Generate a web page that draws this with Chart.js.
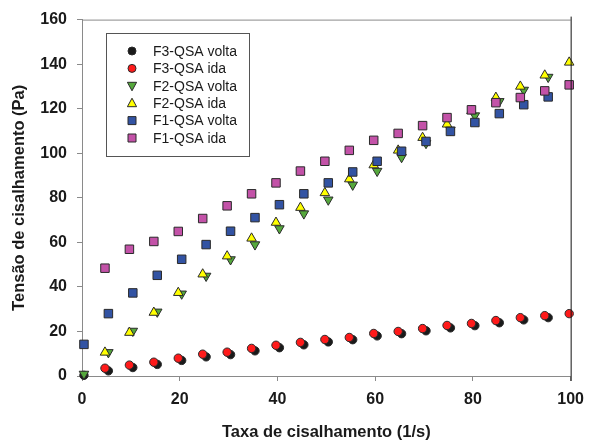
<!DOCTYPE html>
<html>
<head>
<meta charset="utf-8">
<script src="https://cdn.jsdelivr.net/npm/chart.js@4.4.0/dist/chart.umd.min.js"></script>
<style>
  html, body { margin: 0; padding: 0; background: #fff; }
</style>
</head>
<body>
<canvas id="chart" width="593" height="445"></canvas>
<script>
/* --------------------------
   DADOS
--------------------------- */
// taxa de cisalhamento (1/s)
const shearIda   = [4.7, 9.7, 14.7, 19.7, 24.7, 29.7, 34.7, 39.7, 44.7, 49.7,
                    54.7, 59.7, 64.7, 69.7, 74.7, 79.7, 84.7, 89.7, 94.7, 99.7];
const shearVolta = [0.4, 5.4, 10.4, 15.4, 20.4, 25.4, 30.4, 35.4, 40.4, 45.4,
                    50.4, 55.4, 60.4, 65.4, 70.4, 75.4, 80.4, 85.4, 90.4, 95.4];

// tensão de cisalhamento (Pa)
const f3Volta = [0.3, 2.3, 3.8, 5.2, 7.0, 8.6, 9.6, 11.3, 12.7, 14.0,
                 15.3, 16.3, 18.0, 19.0, 20.3, 21.6, 22.6, 23.9, 25.2, 26.2];
const f3Ida   = [3.5, 4.9, 6.2, 8.0, 9.8, 10.7, 12.4, 13.8, 15.1, 16.4,
                 17.3, 19.1, 20.0, 21.3, 22.7, 23.6, 24.9, 26.2, 27.1, 28.0];
const f2Volta = [0.9, 10.6, 20.2, 28.8, 36.9, 44.9, 52.3, 59.0, 66.2, 72.9,
                 79.1, 85.8, 92.0, 98.2, 104.5, 110.5, 116.9, 123.3, 128.4, 134.2];
const f2Ida   = [10.6, 19.5, 28.5, 37.4, 45.7, 53.8, 61.8, 68.9, 75.6, 82.2,
                 88.4, 94.7, 101.3, 107.0, 113.0, 119.0, 125.0, 130.0, 135.0, 140.8];
const f1Volta = [14.2, 28.0, 37.3, 45.2, 52.4, 59.0, 65.0, 71.1, 76.9, 81.8,
                 86.7, 91.6, 96.4, 100.9, 105.3, 109.8, 113.8, 117.8, 121.8, 125.3];
const f1Ida   = [48.4, 56.9, 60.4, 64.9, 70.7, 76.4, 81.8, 86.7, 92.0, 96.4,
                 101.3, 105.8, 108.9, 112.4, 116.0, 119.5, 122.7, 125.0, 128.0, 130.7];

const xTicks = [0, 20, 40, 60, 80, 100];
const yTicks = [0, 20, 40, 60, 80, 100, 120, 140, 160];

const FONT = "'Liberation Sans', Arial, sans-serif";

function pts(xs, ys) {
    return ys.map((y, i) => ({ x: xs[i], y: y }));
}

function serie(label, xs, ys, style, rot, radius, fill, order) {
    return {
        label: label,
        data: pts(xs, ys),
        pointStyle: style,
        rotation: rot,
        pointRadius: radius,
        pointHoverRadius: radius,
        backgroundColor: fill,
        borderColor: '#2a2a2a',
        borderWidth: 1,
        clip: false,
        order: order
    };
}

/* --------------------------
   MOLDURA + LEGENDA
--------------------------- */
const framePlugin = {
    id: 'frame',
    afterDraw(chart) {
        const { ctx, chartArea: a } = chart;
        ctx.save();
        ctx.lineWidth = 1;
        ctx.strokeStyle = '#8a8a8a';
        ctx.beginPath();
        ctx.moveTo(a.left, a.top + 0.5);
        ctx.lineTo(a.right, a.top + 0.5);
        ctx.stroke();
        ctx.strokeStyle = '#111';
        ctx.beginPath();
        ctx.moveTo(a.right + 0.5, a.top - 3);
        ctx.lineTo(a.right + 0.5, a.bottom + 5);
        ctx.stroke();
        ctx.restore();
    }
};

function drawMarker(ctx, ds, x, y) {
    ctx.fillStyle = ds.backgroundColor;
    ctx.strokeStyle = ds.borderColor;
    ctx.lineWidth = 1;
    ctx.beginPath();
    if (ds.pointStyle === 'circle') {
        ctx.arc(x, y, 4, 0, Math.PI * 2);
    } else if (ds.pointStyle === 'rect') {
        ctx.rect(x - 4, y - 4, 8, 8);
    } else {
        const s = ds.rotation ? -1 : 1;
        ctx.moveTo(x, y - 5 * s);
        ctx.lineTo(x + 4.6, y + 3.5 * s);
        ctx.lineTo(x - 4.6, y + 3.5 * s);
        ctx.closePath();
    }
    ctx.fill();
    ctx.stroke();
}

const legendPlugin = {
    id: 'legendBox',
    afterDraw(chart) {
        const ctx = chart.ctx;
        const bx = 106, by = 33, bw = 143, bh = 123;
        ctx.save();
        ctx.fillStyle = '#fff';
        ctx.fillRect(bx, by, bw, bh);
        ctx.strokeStyle = '#555';
        ctx.lineWidth = 1;
        ctx.strokeRect(bx + 0.5, by + 0.5, bw, bh);
        ctx.font = '14px ' + FONT;
        ctx.textBaseline = 'middle';
        ctx.textAlign = 'left';
        chart.data.datasets.forEach((ds, i) => {
            const y = 51 + i * 17.4;
            drawMarker(ctx, ds, 132, y);
            ctx.fillStyle = '#1a1a1a';
            ctx.fillText(ds.label, 153, y + 1);
        });
        ctx.restore();
    }
};

/* --------------------------
   GRÁFICO
--------------------------- */
let ctx = document.getElementById('chart').getContext('2d');

let chart = new Chart(ctx, {
    type: 'scatter',
    data: {
        datasets: [
            serie('F3-QSA volta', shearVolta, f3Volta, 'circle', 0, 4.2, '#1a1a1a', 5),
            serie('F3-QSA ida', shearIda, f3Ida, 'circle', 0, 4.2, '#ff1a1a', 4),
            serie('F2-QSA volta', shearVolta, f2Volta, 'triangle', 180, 5.5, '#55a83c', 3),
            serie('F2-QSA ida', shearIda, f2Ida, 'triangle', 0, 5.5, '#ffff00', 2),
            serie('F1-QSA volta', shearVolta, f1Volta, 'rect', 0, 6, '#3253a3', 1),
            serie('F1-QSA ida', shearIda, f1Ida, 'rect', 0, 6, '#c352a8', 0)
        ]
    },
    options: {
        responsive: false,
        devicePixelRatio: 1,
        animation: false,
        layout: { padding: { left: 0, right: 16, top: 16, bottom: 0 } },
        plugins: {
            legend: { display: false },
            tooltip: { enabled: false }
        },
        scales: {
            x: {
                type: 'linear',
                min: 0, max: 100,
                afterBuildTicks: (s) => { s.ticks = xTicks.map(v => ({ value: v })); },
                afterFit: (s) => { s.height = 69; },
                grid: { drawOnChartArea: false, drawTicks: true, tickLength: 5, color: '#8a8a8a' },
                border: { display: true, color: '#8a8a8a' },
                ticks: { padding: 9, color: '#1a1a1a', font: { family: FONT, size: 16, weight: 'bold' } },
                title: {
                    display: true, text: 'Taxa de cisalhamento (1/s)', color: '#1a1a1a',
                    padding: { top: 0, bottom: 3 },
                    font: { family: FONT, size: 16.5, weight: 'bold' }
                }
            },
            y: {
                type: 'linear',
                min: 0, max: 160,
                afterBuildTicks: (s) => { s.ticks = yTicks.map(v => ({ value: v })); },
                afterFit: (s) => { s.width = 82; },
                grid: { drawOnChartArea: false, drawTicks: true, tickLength: 5, color: '#8a8a8a' },
                border: { display: true, color: '#8a8a8a' },
                ticks: { padding: 10, color: '#1a1a1a', font: { family: FONT, size: 16, weight: 'bold' } },
                title: {
                    display: true, text: 'Tensão de cisalhamento (Pa)', color: '#1a1a1a',
                    padding: { top: 10, bottom: 0 },
                    font: { family: FONT, size: 16.5, weight: 'bold' }
                }
            }
        }
    },
    plugins: [framePlugin, legendPlugin]
});
</script>
</body>
</html>
